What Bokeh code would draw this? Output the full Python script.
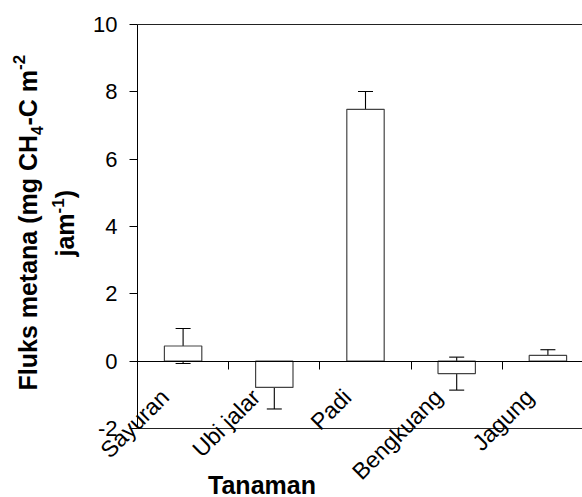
import math
from bokeh.plotting import figure
from bokeh.models import (Range1d, LinearAxis, FixedTicker, ColumnDataSource,
                          Whisker, TeeHead, Label)
from bokeh.embed import file_html
from bokeh.resources import INLINE

categories = ["Sayuran", "Ubi jalar", "Padi", "Bengkuang", "Jagung"]
flux = [0.45, -0.78, 7.48, -0.37, 0.17]
err = [0.52, 0.64, 0.53, 0.49, 0.17]
y_ticks = [-2, 0, 2, 4, 6, 8, 10]
y_tick_labels = ["-2", "0", "2", "4", "6", "8", "10"]
y_lo, y_hi = -2, 10

FONT = "Liberation Sans"
W, H = 582, 497
# pixel geometry of the plotting box inside the canvas
AX_LEFT, AX_TOP, AX_BOTTOM = 137, 24, 428
PX_PER_CAT = 91.2
PX_PER_Y = (AX_BOTTOM - AX_TOP) / (y_hi - y_lo)

x_start = -AX_LEFT / PX_PER_CAT
x_end = (W - AX_LEFT) / PX_PER_CAT
y_end = y_hi + AX_TOP / PX_PER_Y
y_start = y_hi - (H - AX_TOP) / PX_PER_Y

def xd(sx):
    return (sx - AX_LEFT) / PX_PER_CAT

def yd(sy):
    return y_hi - (sy - AX_TOP) / PX_PER_Y

xpos = [i + 0.5 for i in range(len(categories))]
label_pos = [x - 0.2 for x in xpos]   # rotated labels sit left of centre
bounds_x = (0, x_end)
src = ColumnDataSource(dict(
    x=xpos, top=flux,
    upper=[f + e for f, e in zip(flux, err)],
    lower=[f - e for f, e in zip(flux, err)],
))

p = figure(width=W, height=H, output_backend="svg", toolbar_location=None,
           x_range=Range1d(x_start, x_end), y_range=Range1d(y_start, y_end),
           x_axis_location=None, y_axis_location=None, min_border=0)
p.outline_line_color = None
p.xgrid.visible = False
p.ygrid.visible = False
p.background_fill_color = "white"
p.border_fill_color = "white"

# y axis at x = 0
ya = LinearAxis(ticker=FixedTicker(ticks=y_ticks), fixed_location=0,
                bounds=(y_lo, y_hi))
ya.major_label_overrides = {t: s for t, s in zip(y_ticks, y_tick_labels)}
ya.major_tick_out = 8
ya.major_tick_in = 0
ya.minor_tick_line_color = None
ya.major_label_text_font = FONT
ya.major_label_text_font_size = "22px"
ya.major_label_text_color = "black"
ya.major_label_standoff = 12
ya.axis_line_color = "black"
ya.major_tick_line_color = "black"
p.add_layout(ya, "left")

# bottom and top box lines
for loc, side in ((y_lo, "below"), (y_hi, "above")):
    ax = LinearAxis(ticker=FixedTicker(ticks=[]), fixed_location=loc,
                    bounds=bounds_x)
    ax.major_tick_line_color = None
    ax.minor_tick_line_color = None
    ax.axis_line_color = "#222222"
    p.add_layout(ax, side)

# zero line with ticks at category boundaries
xz = LinearAxis(ticker=FixedTicker(ticks=list(range(1, len(categories)))),
                fixed_location=0, bounds=bounds_x)
xz.major_label_overrides = {t: "" for t in range(1, len(categories))}
xz.major_tick_out = 8
xz.major_tick_in = 0
xz.major_tick_line_color = "black"
xz.minor_tick_line_color = None
xz.axis_line_color = "black"
p.add_layout(xz, "below")

# category labels
xl = LinearAxis(ticker=FixedTicker(ticks=label_pos), fixed_location=0)
xl.major_label_overrides = {x: c for x, c in zip(label_pos, categories)}
xl.major_label_orientation = math.pi / 4
xl.major_label_text_font = FONT
xl.major_label_text_font_size = "23px"
xl.major_label_text_color = "black"
xl.major_label_standoff = 32
xl.major_tick_out = 0
xl.major_tick_in = 0
xl.major_tick_line_color = None
xl.minor_tick_line_color = None
xl.axis_line_color = None
p.add_layout(xl, "below")

p.vbar(x="x", top="top", bottom=0, width=0.41, source=src,
       fill_color="white", line_color="#444444", line_width=1.2)

wh = Whisker(source=src, base="x", upper="upper", lower="lower",
             line_color="black", line_width=1.1,
             upper_head=TeeHead(size=15, line_color="black", line_width=1.1),
             lower_head=TeeHead(size=15, line_color="black", line_width=1.1))
p.add_layout(wh)

def rot_label(text, sx, sy, size):
    p.add_layout(Label(x=xd(sx), y=yd(sy), text=text, angle=math.pi / 2,
                       text_align="left", text_baseline="alphabetic",
                       text_font=FONT, text_font_style="bold",
                       text_font_size=f"{size}px", text_color="black"))

big, small = 25, 17
# line 1: Fluks metana (mg CH4-C m-2
s = 390
rot_label("Fluks metana (mg CH", 27, s, big)
s -= 10.224 * big
rot_label("4", 36, s, 16)
s -= 0.556 * 16 + 0.5
rot_label("-C m", 27, s, big)
s -= 2.222 * big
rot_label("-2", 18, s, small)
# line 2: jam-1)
s = 256
rot_label("jam", 64, s, big)
s -= 1.723 * big
rot_label("-1", 57, s, small)
s -= 0.889 * small
rot_label(")", 64, s, big)

p.add_layout(Label(x=xd(261.5), y=yd(484), text="Tanaman",
                   text_align="center", text_baseline="alphabetic",
                   text_font=FONT, text_font_style="bold",
                   text_font_size="25px", text_color="black"))

open("out.html", "w").write(file_html(p, INLINE))
